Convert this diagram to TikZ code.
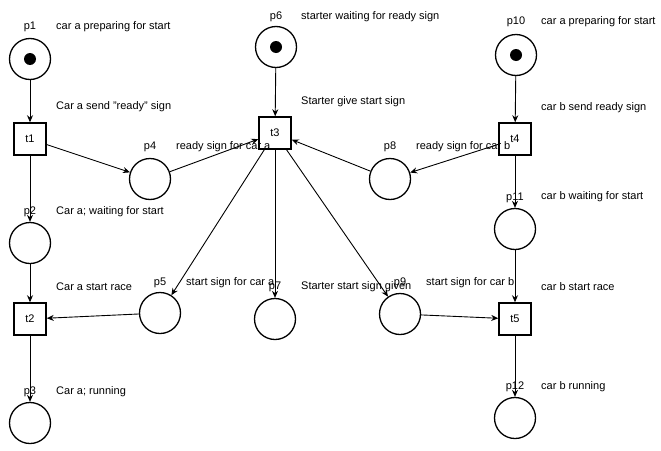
\documentclass[tikz,border=0pt]{standalone}
\usepackage{fontspec}
\setmainfont{Liberation Sans}
\usetikzlibrary{arrows.meta}
\begin{document}
\begin{tikzpicture}[x=1pt,y=-1pt,
  txt/.style={inner sep=0pt,font=\fontsize{11}{13}\selectfont},
  place/.style={circle,draw,line width=1.3pt,minimum size=41pt,inner sep=0pt},
  trans/.style={rectangle,draw,line width=1.5pt,minimum size=32pt,inner sep=0pt,font=\fontsize{11}{13}\selectfont},
  tok/.style={circle,fill,minimum size=12pt,inner sep=0pt},
  pname/.style={txt},
  desc/.style={txt,anchor=west},
  arc/.style={-{Stealth[length=7pt,width=6pt]},line width=0.9pt}]
\useasboundingbox (0,0) rectangle (661,450);
% places
\node[place] (p1) at (30,59) {};
\node[place] (p6) at (276,47) {};
\node[place] (p10) at (516,55) {};
\node[place] (p4) at (150,179) {};
\node[place] (p8) at (390,179) {};
\node[place] (p2) at (30,243) {};
\node[place] (p11) at (515,229) {};
\node[place] (p5) at (160,313) {};
\node[place] (p7) at (275,319) {};
\node[place] (p9) at (400,314) {};
\node[place] (p3) at (30,423) {};
\node[place] (p12) at (515,418) {};
% tokens
\node[tok] (k1) at (p1.center) {};
\node[tok] (k6) at (p6.center) {};
\node[tok] (k10) at (p10.center) {};
% transitions
\node[trans] (t1) at (30,139) {t1};
\node[trans] (t3) at (275,133) {t3};
\node[trans] (t4) at (515,139) {t4};
\node[trans] (t2) at (30,319) {t2};
\node[trans] (t5) at (515,319) {t5};
% arcs
\draw[arc] (p1) -- (t1);
\draw[arc] (t1) -- (p4);
\draw[arc] (p4) -- (t3);
\draw[arc] (t1) -- (p2);
\draw[arc] (p2) -- (t2);
\draw[arc] (t2) -- (p3);
\draw[arc] (p5) -- (t2);
\draw[arc] (p6) -- (t3);
\draw[arc] (t3) -- (p5);
\draw[arc] (t3) -- (p7);
\draw[arc] (t3) -- (p9);
\draw[arc] (p8) -- (t3);
\draw[arc] (p10) -- (t4);
\draw[arc] (t4) -- (p8);
\draw[arc] (t4) -- (p11);
\draw[arc] (p11) -- (t5);
\draw[arc] (t5) -- (p12);
\draw[arc] (p9) -- (t5);
% place names
\node[pname] (n1) at (30,27) {p1};
\node[pname] (n6) at (276,17) {p6};
\node[pname] (n10) at (516,22) {p10};
\node[pname] (n4) at (150,147) {p4};
\node[pname] (n8) at (390,147) {p8};
\node[pname] (n2) at (30,212) {p2};
\node[pname] (n11) at (515,198) {p11};
\node[pname] (n5) at (160,283) {p5};
\node[pname] (n7) at (275,287) {p7};
\node[pname] (n9) at (400,283) {p9};
\node[pname] (n3) at (30,392) {p3};
\node[pname] (n12) at (515,387) {p12};
% descriptions
\node[desc] (d1) at (56,27) {car a preparing for start};
\node[desc] (d2) at (56,107) {Car a send "ready" sign};
\node[desc] (d3) at (176,147) {ready sign for car a};
\node[desc] (d4) at (56,212) {Car a; waiting for start};
\node[desc] (d5) at (56,287) {Car a start race};
\node[desc] (d6) at (186,283) {start sign for car a};
\node[desc] (d7) at (56,392) {Car a; running};
\node[desc] (d8) at (301,17) {starter waiting for ready sign};
\node[desc] (d9) at (301,102) {Starter give start sign};
\node[desc] (d10) at (301,287) {Starter start sign given};
\node[desc] (d11) at (416,147) {ready sign for car b};
\node[desc] (d12) at (426,283) {start sign for car b};
\node[desc] (d13) at (541,22) {car a preparing for start};
\node[desc] (d14) at (541,108) {car b send ready sign};
\node[desc] (d15) at (541,197) {car b waiting for start};
\node[desc] (d16) at (541,287) {car b start race};
\node[desc] (d17) at (541,387) {car b running};
\end{tikzpicture}
\end{document}
